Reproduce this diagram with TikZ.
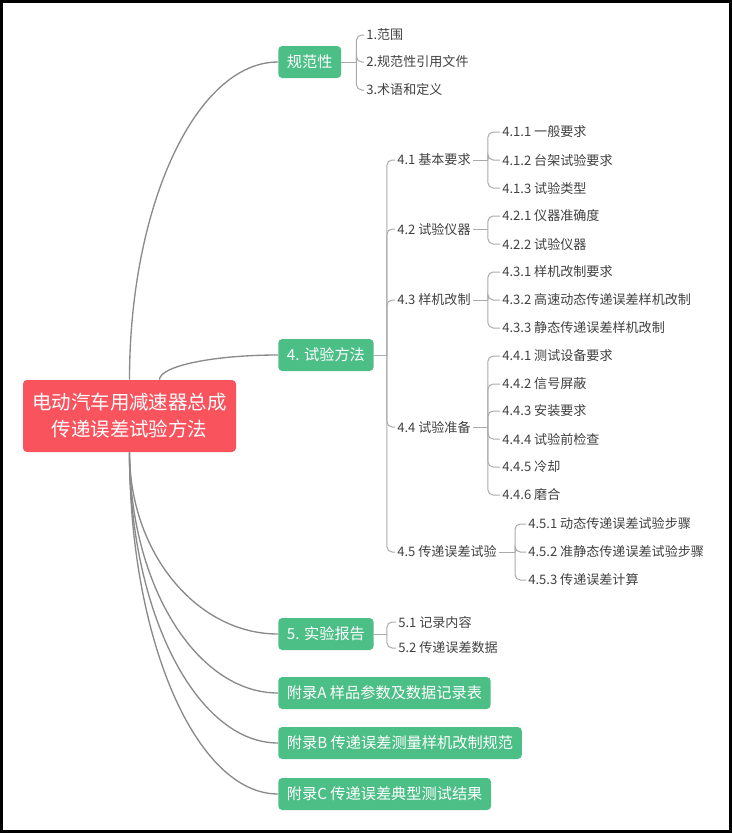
\documentclass[tikz,border=0pt]{standalone}
\usepackage{fontspec}
\newfontfamily\cjk{Noto Sans CJK SC}
\usetikzlibrary{positioning,calc}

\definecolor{rootred}{HTML}{F9535E}
\definecolor{topicgreen}{HTML}{4CBF87}
\definecolor{linegray}{HTML}{8A8A8A}
\definecolor{bracegray}{HTML}{ABABAB}
\definecolor{subtext}{HTML}{404040}

\begin{document}
\begin{tikzpicture}[
  x=0.75pt, y=-0.75pt,
  font=\cjk,
  root/.style={fill=rootred, text=white, rounded corners=3pt, align=center,
    font=\cjk\fontsize{14.6}{20.2}\selectfont, minimum width=159.75pt, minimum height=54pt},
  topic/.style={fill=topicgreen, text=white, rounded corners=3pt, anchor=west,
    font=\cjk\fontsize{11.4}{14}\selectfont, minimum height=24pt, inner xsep=6.5pt},
  sub/.style={anchor=west, text=subtext, font=\cjk\fontsize{9.8}{12}\selectfont, inner xsep=1.5pt, inner ysep=2pt},
  branch/.style={draw=linegray, line width=1pt},
  brace/.style={draw=bracegray, line width=0.75pt, rounded corners=4pt}
]
\useasboundingbox (0,0) rectangle (732,833);
\draw[line width=2.25pt] (1.5,1.5) rectangle (730.5,831.5);

% root and main topics
\node[root] (root) at (129.5,416) {电动汽车用减速器总成\\传递误差试验方法};
\node[topic] (std) at (278,62) {规范性};
\node[topic] (meth) at (278,355) {4. 试验方法};
\node[topic] (rep) at (278,634) {5. 实验报告};
\node[topic] (appA) at (278,693) {附录A 样品参数及数据记录表};
\node[topic] (appB) at (278,743) {附录B 传递误差测量样机改制规范};
\node[topic] (appC) at (278,794) {附录C 传递误差典型测试结果};

% curved branches from the root
\coordinate (roottop) at ([xshift=22.5pt]root.north);
\draw[branch] (root.north) .. controls ($(root.north)!0.55!(root.north |- std.west)$)
  and ($(std.west)!0.55!(root.north |- std.west)$) .. (std.west);
\draw[branch] (roottop) .. controls ($(roottop)!0.55!(roottop |- meth.west)$)
  and ($(meth.west)!0.55!(roottop |- meth.west)$) .. (meth.west);
\foreach \t in {rep,appA,appB,appC}
  \draw[branch] (root.south) .. controls ($(root.south)!0.55!(root.south |- \t.west)$)
    and ($(\t.west)!0.55!(root.south |- \t.west)$) .. (\t.west);

% 规范性
\foreach \n/\y/\t in {s1/35/1.范围, s2/62/2.规范性引用文件, s3/90/3.术语和定义}
  \node[sub] (\n) at (364,\y) {\t};
\draw[brace] (std.east) -- ++(15,0) coordinate (stdb);
\foreach \n in {s1,s2,s3} \draw[brace] (stdb) |- (\n.west);

% 4. 试验方法
\foreach \n/\y/\t in {m1/160/4.1 基本要求, m2/229/4.2 试验仪器, m3/300/4.3 样机改制,
    m4/427/4.4 试验准备, m5/552/4.5 传递误差试验}
  \node[sub] (\n) at (395,\y) {\t};
\draw[brace] (meth.east) -- ++(13,0) coordinate (methb);
\foreach \n in {m1,m2,m3,m4,m5} \draw[brace] (methb) |- (\n.west);

\foreach \n/\y/\t in {m11/132/4.1.1 一般要求, m12/160/4.1.2 台架试验要求, m13/188/4.1.3 试验类型,
    m21/216/4.2.1 仪器准确度, m22/244/4.2.2 试验仪器,
    m31/272/4.3.1 样机改制要求, m32/300/4.3.2 高速动态传递误差样机改制, m33/328/4.3.3 静态传递误差样机改制,
    m41/356/4.4.1 测试设备要求, m42/384/4.4.2 信号屏蔽, m43/411/4.4.3 安装要求,
    m44/439/4.4.4 试验前检查, m45/467/4.4.5 冷却, m46/495/4.4.6 磨合}
  \node[sub] (\n) at (500,\y) {\t};
\foreach \n/\y/\t in {m51/524/4.5.1 动态传递误差试验步骤, m52/552/4.5.2 准静态传递误差试验步骤,
    m53/580/4.5.3 传递误差计算}
  \node[sub] (\n) at (526,\y) {\t};

\draw[brace] (m1.east) -- ++(15,0) coordinate (m1b);
\foreach \n in {m11,m12,m13} \draw[brace] (m1b) |- (\n.west);
\draw[brace] (m2.east) -- ++(15,0) coordinate (m2b);
\foreach \n in {m21,m22} \draw[brace] (m2b) |- (\n.west);
\draw[brace] (m3.east) -- ++(15,0) coordinate (m3b);
\foreach \n in {m31,m32,m33} \draw[brace] (m3b) |- (\n.west);
\draw[brace] (m4.east) -- ++(15,0) coordinate (m4b);
\foreach \n in {m41,m42,m43,m44,m45,m46} \draw[brace] (m4b) |- (\n.west);
\draw[brace] (m5.east) -- ++(16,0) coordinate (m5b);
\foreach \n in {m51,m52,m53} \draw[brace] (m5b) |- (\n.west);

% 5. 实验报告
\node[sub] (r1) at (396,622) {5.1 记录内容};
\node[sub] (r2) at (396,648) {5.2 传递误差数据};
\draw[brace] (rep.east) -- ++(13,0) coordinate (repb);
\foreach \n in {r1,r2} \draw[brace] (repb) |- (\n.west);
\end{tikzpicture}
\end{document}
